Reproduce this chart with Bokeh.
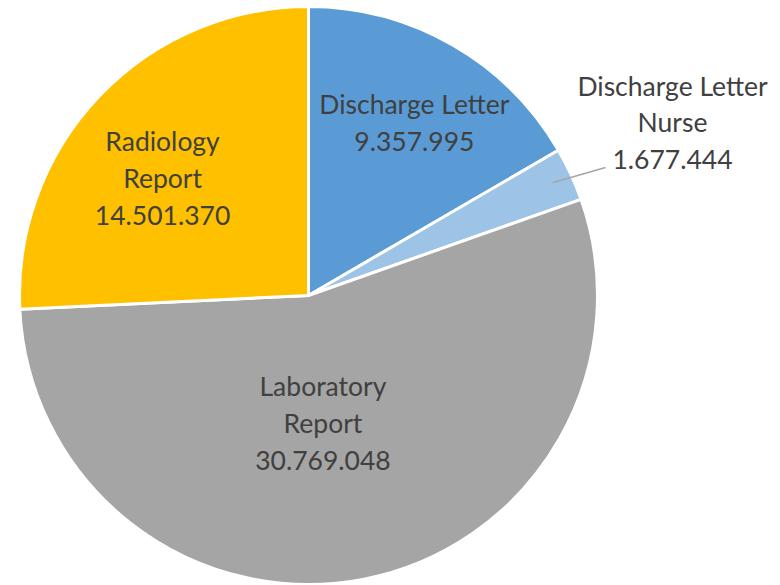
import math
from bokeh.plotting import figure
from bokeh.models import ColumnDataSource
from bokeh.core.properties import value
from bokeh.embed import file_html
from bokeh.resources import INLINE

categories = ["Discharge Letter", "Discharge Letter\nNurse", "Laboratory\nReport", "Radiology\nReport"]
values = [9357995, 1677444, 30769048, 14501370]
value_labels = ["9.357.995", "1.677.444", "30.769.048", "14.501.370"]
colors = ["#5B9BD5", "#9DC3E6", "#A5A5A5", "#FFC000"]

W, H = 780, 585
cx, cy, R = 308, H - 295, 289

total = sum(values)
starts, ends, mids = [], [], []
acc = 0.0
for v in values:
    a0 = math.pi / 2 - 2 * math.pi * acc / total
    acc += v
    a1 = math.pi / 2 - 2 * math.pi * acc / total
    starts.append(a0)
    ends.append(a1)
    mids.append((a0 + a1) / 2)

p = figure(width=W, height=H, x_range=(0, W), y_range=(0, H),
           output_backend="svg", toolbar_location=None, min_border=0)
p.axis.visible = False
p.grid.visible = False
p.outline_line_color = None
p.background_fill_color = "white"

src = ColumnDataSource(dict(start=starts, end=ends, color=colors))
p.wedge(x=cx, y=cy, radius=R, start_angle="end", end_angle="start",
        fill_color="color", line_color="white", line_width=3, source=src)

# label placement: radius factor along mid-angle plus a small pixel nudge
rfac = [0.70, None, 0.44, 0.65]
nudge = [(5, -2), (0, 0), (-10, -3), (-10, -12)]
lx, ly = [], []
texts = []
for i, (c, vl) in enumerate(zip(categories, value_labels)):
    texts.append(c + "\n" + vl)
    if rfac[i] is None:
        lx.append(672)
        ly.append(H - 122)
    else:
        lx.append(cx + R * rfac[i] * math.cos(mids[i]) + nudge[i][0])
        ly.append(cy + R * rfac[i] * math.sin(mids[i]) + nudge[i][1])

m = mids[1]
p.line(x=[cx + R * 0.93 * math.cos(m), 605], y=[cy + R * 0.93 * math.sin(m), H - 167],
       line_color="#A6A6A6", line_width=1.5)

p.text(x=lx, y=ly, text=texts, text_align="center", text_baseline="middle",
       text_font=value("Lato"), text_font_size="26.5px", text_color="#404040",
       text_line_height=1.15)

open("out.html", "w").write(file_html(p, INLINE))
